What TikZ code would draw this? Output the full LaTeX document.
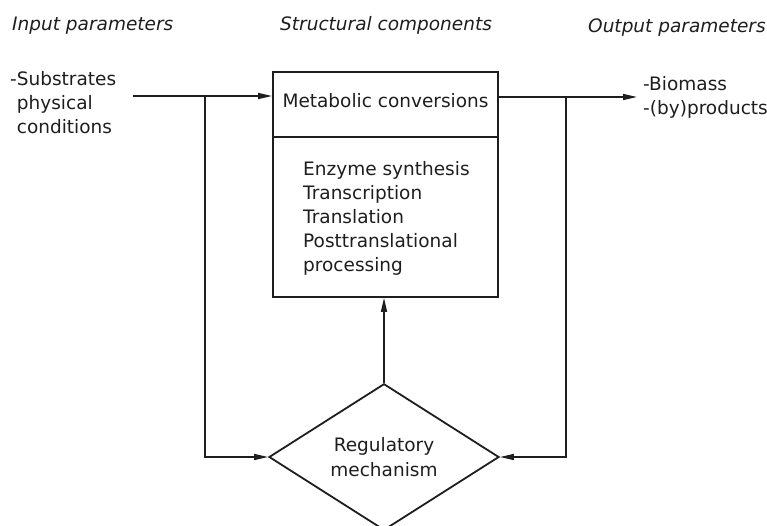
\documentclass[tikz,border=0pt]{standalone}
\usepackage{fontspec}
\setmainfont{DejaVu Sans}
\usetikzlibrary{arrows.meta,shapes.geometric,calc}

\definecolor{ink}{HTML}{1E1E1E}

\tikzset{
  base/.style={font=\fontsize{18.5}{24}\selectfont, text=ink, inner sep=0pt},
  header/.style={base, font=\fontsize{18.5}{24}\selectfont\itshape, anchor=base west},
  plain/.style={base, align=left, anchor=north west},
  block/.style={draw=ink, line width=1.8pt, rectangle, inner sep=0pt},
  decision/.style={draw=ink, line width=1.8pt, diamond, inner sep=0pt,
    minimum width=230pt, minimum height=135pt, align=center,
    font=\fontsize{18.5}{25}\selectfont, text=ink},
  link/.style={draw=ink, line width=1.5pt},
  flow/.style={link, -{Triangle[length=14pt,width=6pt]}},
}

\begin{document}
\begin{tikzpicture}[x=1pt,y=-1pt]
\useasboundingbox (0,0) rectangle (767,525);

% column headings
\node[header] (hin)  at (12,30)  {Input parameters};
\node[header] (hstr) at (280,30) {Structural components};
\node[header] (hout) at (588,32) {Output parameters};

% inputs and outputs
\node[plain] (inputs) at (10,71) {-Substrates\\\phantom{-}physical\\\phantom{-}conditions};
\node[plain] (outputs) at (643,76) {-Biomass\\-(by)products};

% structural block with its two compartments
\node[block, minimum width=225pt, minimum height=225pt] (box) at (385.5,184.5) {};
\coordinate (divL) at ($(box.north west)+(0,66)$);
\coordinate (divR) at ($(box.north east)+(0,66)$);
\draw[link, line width=1.8pt] (divL) -- (divR);
\node[base, anchor=base] (metab) at (385.5,107) {Metabolic conversions};
\node[plain] (synth) at (303,161) {Enzyme synthesis\\Transcription\\Translation\\Posttranslational\\processing};

% regulation
\node[decision] (reg) at (384,457) {Regulatory\\mechanism};

% connectors
\coordinate (inS)  at (133,96);
\coordinate (jl)   at (205,96);
\coordinate (outE) at (637,97);
\coordinate (jr)   at (566,97);

\draw[flow] (inS) -- (inS -| box.west);
\draw[flow] (jl) |- (reg.west);
\draw[flow] (box.east |- outE) -- (outE);
\draw[flow] (jr) |- (reg.east);
\draw[flow] (reg.north) -- (reg.north |- box.south);
\end{tikzpicture}
\end{document}
